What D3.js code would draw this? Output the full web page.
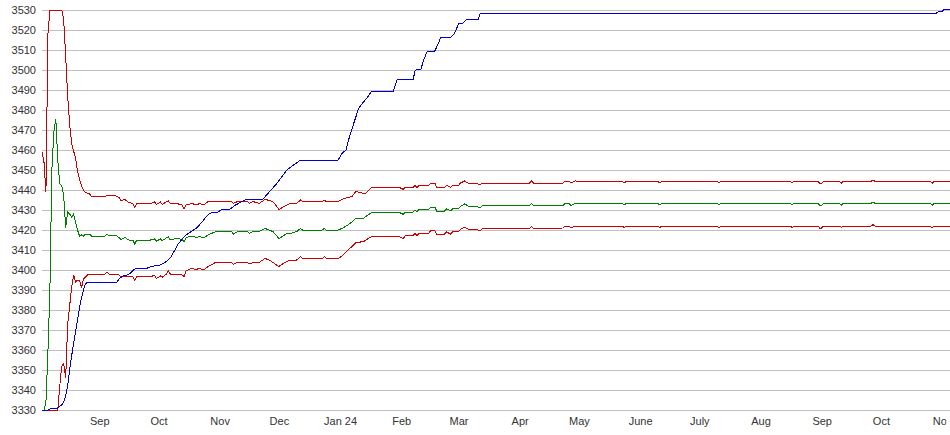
<!DOCTYPE html>
<html><head><meta charset="utf-8">
<script src="https://cdn.jsdelivr.net/npm/d3@7"></script>
<style>
html,body{margin:0;padding:0;background:#fff;overflow:hidden}
svg{display:block}
.axis text{font-family:"Liberation Sans",Arial,sans-serif;font-size:11px;fill:#333}
</style></head><body><svg id="c" width="950" height="435"></svg>
<script>
// ---- data ----
const bandDates = [
"2023-08-03","2023-08-04","2023-08-05","2023-08-06","2023-08-07","2023-08-08","2023-08-09","2023-08-10","2023-08-11","2023-08-12","2023-08-13","2023-08-14","2023-08-15","2023-08-16","2023-08-17","2023-08-18","2023-08-19","2023-08-20","2023-08-21","2023-08-22","2023-08-23","2023-08-24","2023-08-25","2023-08-26","2023-08-27","2023-08-28",
"2023-09-04","2023-09-05","2023-09-06","2023-09-09","2023-09-11","2023-09-12","2023-09-14","2023-09-16","2023-09-18","2023-09-19","2023-09-20","2023-09-25","2023-09-27","2023-09-29","2023-09-30",
"2023-10-02","2023-10-03","2023-10-05","2023-10-06","2023-10-07","2023-10-10","2023-10-13","2023-10-14","2023-10-15","2023-10-18","2023-10-20","2023-10-22","2023-10-24","2023-10-26","2023-10-30",
"2023-11-07","2023-11-08","2023-11-10","2023-11-15","2023-11-16","2023-11-18","2023-11-21","2023-11-24","2023-11-26","2023-11-28",
"2023-12-01","2023-12-02","2023-12-05","2023-12-07","2023-12-10","2023-12-12","2023-12-13","2023-12-23","2023-12-24","2023-12-25","2023-12-31",
"2024-01-02","2024-01-05","2024-01-07","2024-01-09","2024-01-13","2024-01-14","2024-01-17","2024-01-31",
"2024-02-02","2024-02-03","2024-02-07","2024-02-08","2024-02-09","2024-02-10","2024-02-15","2024-02-16","2024-02-18","2024-02-19","2024-02-23","2024-02-24","2024-02-26","2024-02-27",
"2024-03-01","2024-03-02","2024-03-04","2024-03-06","2024-03-10","2024-03-12","2024-03-13",
"2024-04-06","2024-04-07","2024-04-08","2024-04-23","2024-04-24","2024-04-26","2024-04-27","2024-04-29",
"2024-05-12","2024-05-23","2024-05-24","2024-05-25",
"2024-06-10","2024-06-11","2024-06-12",
"2024-07-10","2024-07-11","2024-07-12",
"2024-08-16","2024-08-17","2024-08-18","2024-08-30","2024-08-31",
"2024-09-01","2024-09-02","2024-09-10","2024-09-11","2024-09-12","2024-09-26","2024-09-27","2024-09-28",
"2024-10-26","2024-10-27","2024-10-28",
"2024-11-05"];

const upperValues = [
3459,3454,3439,3518,3530,3530,3530,3530,3530,3530,3530,3525,3507,3487,3473,3463.5,3459.5,3456,3449.5,3445.5,3442,3440,3438.6,3438.5,3438.3,3436.7,
3436.7,3437.3,3437,3437.3,3436.3,3434.7,3435.3,3433.7,3433.3,3431.3,3433.3,3433.3,3433.3,3434,3432.8,
3434,3432.8,3434.2,3434.5,3433.3,3433.3,3432.5,3430.5,3432.5,3433.3,3432.5,3433.3,3432.5,3434.2,3434.2,
3434.2,3433.3,3434.2,3434.2,3433.3,3434.2,3433.3,3435.3,3434.8,3434.2,
3430.3,3430.8,3432.5,3433.3,3433.3,3435,3434.2,3434.2,3435,3434.2,3434.2,
3435.3,3436.3,3436.7,3439.2,3438.3,3438.3,3441.3,3441.3,
3440.3,3441.3,3441.3,3442.3,3441.3,3442.3,3442.3,3443.5,3443.5,3441.3,3441.3,3442.3,3441.3,3442.3,
3442.3,3443.5,3444.5,3443.5,3443.5,3442.5,3443.5,
3443.5,3444.5,3443.5,3443.5,3444.5,3444.5,3443.5,3444.5,
3444.3,3444.3,3443.5,3444.3,
3444.3,3443.5,3444.3,
3444.3,3443.5,3444.3,
3444.3,3443.5,3444.3,3444.3,3443.3,
3443.3,3444.3,3444.3,3443.5,3444.3,3444.3,3445,3444.3,
3444.3,3443.3,3444.3,
3444.3];

const middleValues = [
3330,3330,3334,3359,3390,3450,3469,3475.5,3455,3443,3442,3437,3421,3429,3428,3426.5,3428,3424,3420,3417,3417.5,3417,3418,3418,3418,3417,
3417,3418,3417,3417.5,3416.3,3415.3,3416.3,3415,3415,3413,3415,3415,3415,3415.5,3414.5,
3415.5,3414.7,3416,3416.7,3415,3415.8,3415.3,3414.2,3416.2,3417,3416.3,3416.7,3416,3417.5,3419.2,
3419.2,3418,3419.2,3419.2,3418.3,3419.2,3419.2,3420.8,3420,3419.2,
3415.8,3416.3,3418.3,3418.3,3419.2,3420.8,3420,3420,3420.8,3420,3420,
3420.8,3422.5,3424,3425.8,3425.8,3426.7,3428.8,3428.8,
3427.8,3429,3429,3430,3429.2,3430.2,3430.3,3431.5,3431.5,3429.5,3429.5,3430.5,3429.6,3430.6,
3430.6,3431.8,3433,3432,3432,3431,3432,
3432.2,3433.2,3432.2,3432.3,3433.3,3433.3,3432.3,3433.3,
3433.3,3433.3,3432.5,3433.3,
3433.3,3432.5,3433.3,
3433.3,3432.5,3433.3,
3433.3,3432.5,3433.3,3433.3,3432.3,
3432.3,3433.3,3433.3,3432.5,3433.3,3433.3,3434,3433.3,
3433.3,3432.3,3433.3,
3433.3];

const lowerValues = [
3330,3330,3330,3330,3330,3330,3330,3330,3330,3342,3352,3353,3346,3373,3382,3391,3397.5,3394,3395,3395,3391,3395.5,3396.5,3397.5,3398,3398,
3398,3399,3398,3398,3397.5,3396.5,3397,3396.7,3396.7,3395,3396.7,3396.7,3396.7,3397.3,3395.8,
3397,3396.5,3398,3399.7,3398,3398,3397.5,3396.7,3399.7,3400.8,3400.3,3400.8,3400,3401.7,3403.8,
3403.8,3402.8,3403.8,3403.8,3403,3403.8,3403.8,3405.8,3405,3403.8,
3401.7,3402.5,3404.2,3405,3405,3406.7,3405.8,3405.8,3406.7,3405.8,3405.8,
3407,3410,3411.7,3413.7,3414.2,3415,3416.7,3416.7,
3415.8,3417,3417.2,3418.2,3417.3,3418.3,3418.5,3419.7,3419.8,3417.8,3418,3419,3418,3419,
3419.1,3420.3,3421.3,3420.4,3420.5,3419.5,3420.5,
3420.8,3421.8,3420.8,3421,3422,3422,3421,3422,
3422,3422,3421.2,3422,
3422,3421.2,3422,
3422,3421.2,3422,
3422,3421.2,3422,3422,3421,
3421,3422,3422,3421.2,3422,3422,3422.7,3422,
3422,3421,3422,
3422];

const actualDates = [
"2023-08-03","2023-08-06","2023-08-08","2023-08-11","2023-08-12","2023-08-13","2023-08-14","2023-08-15","2023-08-16","2023-08-17","2023-08-18","2023-08-19","2023-08-20","2023-08-21","2023-08-22","2023-08-23","2023-08-24","2023-08-25","2023-08-26",
"2023-09-10","2023-09-11","2023-09-13","2023-09-16","2023-09-19","2023-09-25","2023-09-27",
"2023-10-02","2023-10-04","2023-10-07","2023-10-09","2023-10-11","2023-10-13","2023-10-15","2023-10-17","2023-10-20","2023-10-22","2023-10-26","2023-10-28","2023-10-31",
"2023-11-02","2023-11-06","2023-11-09","2023-11-12","2023-11-15","2023-11-23","2023-11-30",
"2023-12-05","2023-12-12","2023-12-31",
"2024-01-02","2024-01-04","2024-01-06","2024-01-09","2024-01-10","2024-01-12","2024-01-15","2024-01-17","2024-01-28","2024-01-30",
"2024-02-07","2024-02-08","2024-02-09","2024-02-11","2024-02-12","2024-02-13","2024-02-14","2024-02-18","2024-02-20","2024-02-21","2024-02-26","2024-02-28",
"2024-03-01","2024-03-03","2024-03-05","2024-03-11","2024-03-12",
"2024-10-29","2024-10-30","2024-11-01","2024-11-02","2024-11-05"];

const actualValues = [
3330,3330,3331,3331,3332,3332.5,3334,3337,3342,3350,3357,3363,3369,3375,3381,3386,3390,3393,3394,
3394,3395.5,3397,3397.8,3400.5,3400.8,3401.7,
3402.5,3403.5,3406,3409.5,3413,3415.5,3417.5,3418.8,3420.8,3422.8,3427.5,3428.8,3428.8,
3430.3,3430.3,3432.5,3434,3435.5,3435.5,3443.3,
3450,3455,3455,
3458.3,3460,3467.5,3476.5,3480,3483,3486.5,3489.5,3489.5,3495.3,
3495.3,3499.5,3500.3,3500.3,3504,3506.5,3509,3509.5,3513.7,3516.3,3516.3,3518.3,
3523,3523.3,3525.3,3525.3,3528.3,
3528.3,3529.2,3529.2,3530.3,3530.3];

const yTickValues = [3330,3340,3350,3360,3370,3380,3390,3400,3410,3420,3430,3440,3450,3460,3470,3480,3490,3500,3510,3520,3530];
const monthTickDates = ["2023-09-01","2023-10-01","2023-11-01","2023-12-01","2024-01-01","2024-02-01","2024-03-01","2024-04-01","2024-05-01","2024-06-01","2024-07-01","2024-08-01","2024-09-01","2024-10-01","2024-11-01"];
const monthTickLabels = ["Sep","Oct","Nov","Dec","Jan 24","Feb","Mar","Apr","May","June","July","Aug","Sep","Oct","Nov"];
const domainStart = "2023-08-03", domainEnd = "2024-11-05";

// ---- chart ----
(function () {
const parse = d3.utcParse("%Y-%m-%d");
const H = 435;
const mLeft = 42, mRight = 950, mTop = 10, mBottom = 410;
const svg = d3.select("#c");

const x = d3.scaleUtc().domain([parse(domainStart), parse(domainEnd)]).range([mLeft, mRight]);
const y = d3.scaleLinear().domain([3330, 3530]).range([mBottom, mTop]);

// grid
svg.append("g").selectAll("line").data(yTickValues).join("line")
  .attr("x1", mLeft).attr("x2", mRight)
  .attr("y1", d => y(d) + 0.5).attr("y2", d => y(d) + 0.5)
  .attr("stroke", "#c0c0c0").attr("stroke-width", 1)
  .attr("shape-rendering", "crispEdges");

// y axis labels
svg.append("g").attr("class", "axis").attr("transform", `translate(${mLeft},0)`)
  .call(d3.axisLeft(y).tickValues(yTickValues).tickFormat(d3.format("d")).tickSize(0).tickPadding(6))
  .call(g => g.select(".domain").remove());

// x axis labels (the last one runs off the right edge as in the original)
svg.append("defs").append("clipPath").attr("id", "xclip")
  .append("rect").attr("x", 0).attr("y", 0).attr("width", 946.4).attr("height", H);
svg.append("g").attr("class", "axis").attr("clip-path", "url(#xclip)")
  .append("g").attr("transform", `translate(0,${mBottom})`)
  .call(d3.axisBottom(x).tickValues(monthTickDates.map(parse))
        .tickFormat((d, i) => monthTickLabels[i]).tickSize(0).tickPadding(7))
  .call(g => g.select(".domain").remove());

const line = d3.line().x(d => x(d.date)).y(d => y(d.value));
const mk = (dates, vals) => dates.map((d, i) => ({date: parse(d), value: vals[i]}));

const series = [
  {data: mk(bandDates, lowerValues), color: "#cc0000"},
  {data: mk(bandDates, middleValues), color: "#008000"},
  {data: mk(bandDates, upperValues), color: "#cc0000"},
  {data: mk(actualDates, actualValues), color: "#0000cc"}
];
svg.append("g").selectAll("path").data(series).join("path")
  .attr("d", d => line(d.data))
  .attr("fill", "none")
  .attr("stroke", d => d.color)
  .attr("stroke-width", 1)
  .attr("shape-rendering", "crispEdges");
})();
</script>
</body></html>
